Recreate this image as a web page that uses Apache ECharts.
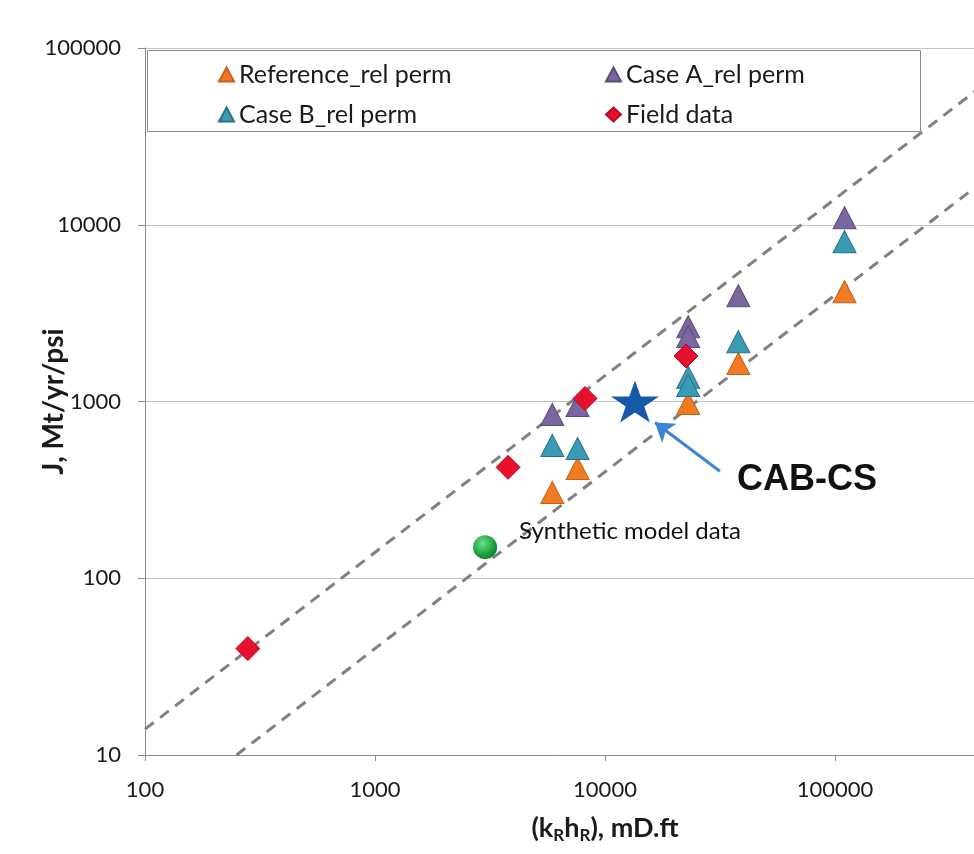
<!DOCTYPE html>
<html>
<head>
<meta charset="utf-8">
<script src="https://cdn.jsdelivr.net/npm/echarts@6/dist/echarts.min.js"></script>
<style>
html, body { margin: 0; padding: 0; background: #fff; }
#main { width: 974px; height: 854px; }
</style>
</head>
<body>
<div id="main"></div>
<script>
// kR*hR (mD.ft) vs J (Mt/yr/psi)
var referencePts = [[5900, 306], [7600, 418], [23000, 975], [38000, 1640], [110000, 4180]];
var caseAPts = [[5900, 845], [7600, 950], [23000, 2650], [23000, 2330], [38000, 3970], [110000, 10960]];
var caseBPts = [[5900, 564], [7600, 542], [23000, 1370], [23000, 1230], [38000, 2180], [110000, 8020]];
var fieldPts = [[280, 40], [3790, 424], [8190, 1040], [22500, 1810]];
var syntheticPts = [[3010, 150]];
var cabcsPts = [[13500, 1000]];
// dashed guide lines
var upperTrend = [[100, 14], [500000, 70000]];
var lowerTrend = [[250, 10], [500000, 20000]];
// arrow pointing at CAB-CS
var arrowTail = [31600, 403];
var arrowHead = [16500, 760];

var legendNames = ['Reference_rel perm', 'Case A_rel perm', 'Case B_rel perm', 'Field data'];

var chart = echarts.init(document.getElementById('main'));

var starPath = 'path://M50,0 L61.8,35.4 L99,35.4 L69,57.3 L80.4,93 L50,71 L19.6,93 L31,57.3 L1,35.4 L38.2,35.4 Z';
var txt = { fontFamily: 'Lato', fontSize: 25, color: '#1a1a1a' };

function legendAt(name, left, top) {
  return {
    data: [name], left: left, top: top, itemWidth: 15, itemHeight: 14,
    itemGap: 0, textStyle: txt, z: 20, selectedMode: false
  };
}

var option = {
  animation: false,
  backgroundColor: '#fff',
  grid: { left: 145, right: -91, top: 48, bottom: 99, outerBoundsMode: 'none', containLabel: false },
  legend: [
    legendAt(legendNames[0], 213, 57),
    legendAt(legendNames[1], 600, 57),
    legendAt(legendNames[2], 213, 97),
    legendAt(legendNames[3], 600, 97)
  ],
  graphic: [
    { type: 'rect', left: 147, top: 50, z: 10,
      shape: { width: 773, height: 81 },
      style: { fill: '#fff', stroke: '#8a8a8a', lineWidth: 1 } },
    { type: 'text', left: 737, top: 462, z: 10,
      style: { text: 'CAB-CS', font: 'bold 36px "Liberation Sans", Arial', fill: '#111' } }
  ],
  xAxis: {
    type: 'log', logBase: 10, min: 100, max: 1000000,
    name: '{a|(k}{s|R}{a|h}{s|R}{a|), mD.ft}',
    nameLocation: 'middle', nameGap: 58, nameMoveOverlap: false,
    nameTextStyle: {
      rich: {
        a: { fontFamily: 'Lato', fontWeight: 'bold', fontSize: 27, color: '#1a1a1a' },
        s: { fontFamily: 'Lato', fontWeight: 'bold', fontSize: 17, color: '#1a1a1a', padding: [14, 0, 0, 0] }
      }
    },
    axisLine: { show: true, lineStyle: { color: '#8a8a8a' } },
    axisTick: { show: true, length: 6, lineStyle: { color: '#8a8a8a' } },
    splitLine: { show: false },
    minorTick: { show: false },
    axisLabel: {
      margin: 24, fontFamily: 'Lato', fontSize: 22, color: '#1a1a1a', showMaxLabel: false,
      formatter: function (v) { return String(Math.round(v)); }
    }
  },
  yAxis: {
    type: 'log', logBase: 10, min: 10, max: 100000,
    name: 'J, Mt/yr/psi',
    nameLocation: 'middle', nameGap: 77, nameRotate: 90, nameMoveOverlap: false,
    nameTextStyle: { fontFamily: 'Lato', fontWeight: 'bold', fontSize: 28, color: '#1a1a1a' },
    axisLine: { show: true, lineStyle: { color: '#8a8a8a' } },
    axisTick: { show: true, length: 7, lineStyle: { color: '#8a8a8a' } },
    splitLine: { show: true, lineStyle: { color: '#c4c4c4', width: 1 } },
    axisLabel: {
      margin: 24, fontFamily: 'Lato', fontSize: 22, color: '#1a1a1a',
      formatter: function (v) { return String(Math.round(v)); }
    }
  },
  series: [
    { type: 'line', data: upperTrend, symbol: 'none', silent: true, z: 1,
      lineStyle: { color: '#808080', width: 3, type: [11, 8] } },
    { type: 'line', data: lowerTrend, symbol: 'none', silent: true, z: 1,
      lineStyle: { color: '#808080', width: 3, type: [11, 8] } },
    { name: legendNames[0], type: 'scatter', data: referencePts, symbol: 'triangle', symbolSize: [23, 22],
      itemStyle: { color: '#ef7b22', borderColor: '#c4601a', borderWidth: 1, opacity: 1 } },
    { name: legendNames[1], type: 'scatter', data: caseAPts, symbol: 'triangle', symbolSize: [23, 22],
      itemStyle: { color: '#7a67a0', borderColor: '#5b4c7c', borderWidth: 1, opacity: 1 } },
    { name: legendNames[2], type: 'scatter', data: caseBPts, symbol: 'triangle', symbolSize: [23, 22],
      itemStyle: { color: '#3a9cb4', borderColor: '#2a7185', borderWidth: 1, opacity: 1 } },
    { name: legendNames[3], type: 'scatter', data: fieldPts, symbol: 'diamond', symbolSize: [24, 24],
      itemStyle: { color: '#e8112d', borderColor: '#b00c22', borderWidth: 1, opacity: 1 } },
    { name: 'Synthetic model data', type: 'scatter', data: syntheticPts, symbol: 'circle', symbolSize: 24,
      itemStyle: {
        opacity: 1,
        color: new echarts.graphic.RadialGradient(0.4, 0.35, 0.7, [
          { offset: 0, color: '#6fe08f' },
          { offset: 0.6, color: '#1fa844' },
          { offset: 1, color: '#11732c' }
        ])
      },
      label: { show: true, position: 'right', distance: 22, offset: [0, -16],
        formatter: 'Synthetic model data', fontFamily: 'Lato', fontSize: 24, color: '#111' } },
    { name: 'CAB-CS', type: 'scatter', data: cabcsPts, symbol: starPath, symbolSize: [48, 42],
      itemStyle: { color: '#1559a8', opacity: 1 },
      markLine: {
        silent: true, symbol: ['none', 'arrow'], symbolSize: 18,
        label: { show: false },
        lineStyle: { color: '#3a86d2', width: 3, type: 'solid' },
        data: [[{ coord: arrowTail }, { coord: arrowHead }]]
      } }
  ]
};

chart.setOption(option);
</script>
</body>
</html>
